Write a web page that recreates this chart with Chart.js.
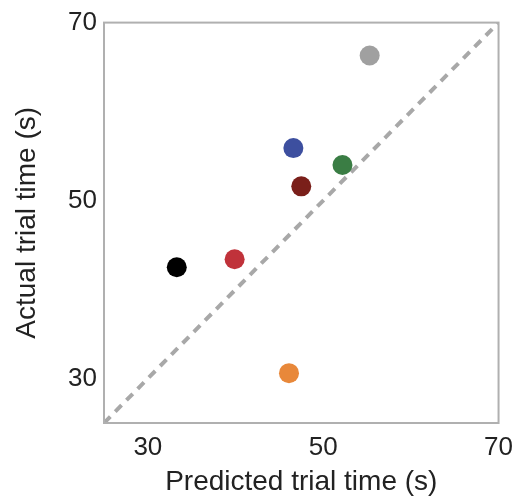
<!DOCTYPE html>
<html>
<head>
<meta charset="utf-8">
<script src="https://cdn.jsdelivr.net/npm/chart.js@4"></script>
<style>
  html, body { margin: 0; padding: 0; background: #fff; }
  #wrap { width: 522px; height: 501px; }
</style>
</head>
<body>
<div id="wrap"><canvas id="chart"></canvas></div>
<script>
const predicted = [55.3, 46.6, 52.2, 47.5, 33.3, 39.9, 46.1];
const actual = [66.3, 55.9, 54.0, 51.6, 42.5, 43.4, 30.6];
const dotColors = ['#a0a0a0', '#3d4f9f', '#3a7d44', '#7a1f1a', '#000000', '#c0323a', '#e8883a'];
const tickValues = [30, 50, 70];
const axisMin = 25;
const axisMax = 70;

const points = predicted.map((p, i) => ({ x: p, y: actual[i] }));
const identity = [{ x: axisMin, y: axisMin }, { x: axisMax, y: axisMax }];

// box around the plot area
const frame = {
  id: 'frame',
  afterDraw(chart) {
    const a = chart.chartArea, ctx = chart.ctx;
    ctx.save();
    ctx.strokeStyle = '#b0b0b0';
    ctx.lineWidth = 2;
    ctx.strokeRect(a.left, a.top, a.right - a.left, a.bottom - a.top);
    ctx.restore();
  }
};

const tickFont = { family: '"Liberation Sans", Arial, sans-serif', size: 26 };
const titleFont = { family: '"Liberation Sans", Arial, sans-serif', size: 28 };

new Chart(document.getElementById('chart'), {
  type: 'scatter',
  data: {
    datasets: [
      {
        data: points,
        pointBackgroundColor: dotColors,
        pointBorderWidth: 0,
        pointRadius: 10,
        pointHoverRadius: 10,
        order: 1
      },
      {
        type: 'line',
        data: identity,
        borderColor: '#a8a8a8',
        borderWidth: 4,
        borderDash: [9, 7],
        pointRadius: 0,
        fill: false,
        order: 2
      }
    ]
  },
  options: {
    responsive: true,
    maintainAspectRatio: false,
    animation: false,
    layout: { padding: { top: 22, right: 19, left: 0, bottom: 0 } },
    plugins: { legend: { display: false }, tooltip: { enabled: false } },
    scales: {
      x: {
        min: axisMin,
        max: axisMax,
        afterBuildTicks: s => { s.ticks = tickValues.map(v => ({ value: v })); },
        afterFit: s => { s.height = 78; },
        grid: { display: false, drawTicks: false },
        border: { display: false },
        ticks: { color: '#222', font: tickFont, padding: 9, maxRotation: 0 },
        title: { display: true, text: 'Predicted trial time (s)', color: '#222', font: titleFont, padding: { top: 0, bottom: 2 } }
      },
      y: {
        min: axisMin,
        max: axisMax,
        afterBuildTicks: s => { s.ticks = tickValues.map(v => ({ value: v })); },
        afterFit: s => { s.width = 104; },
        grid: { display: false, drawTicks: false },
        border: { display: false },
        ticks: { color: '#222', font: tickFont, padding: 7 },
        title: { display: true, text: 'Actual trial time (s)', color: '#222', font: titleFont, padding: { top: 10, bottom: 0 } }
      }
    }
  },
  plugins: [frame]
});
</script>
</body>
</html>
